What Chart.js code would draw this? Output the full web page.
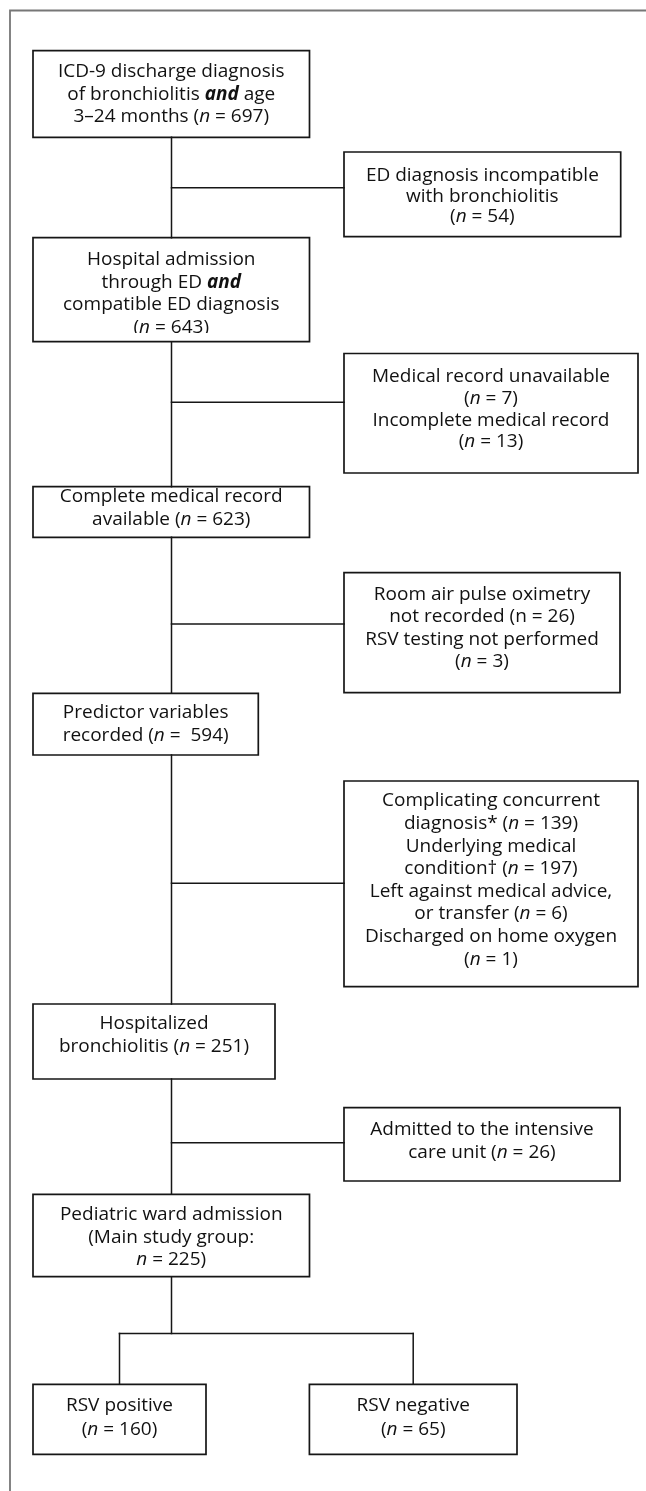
<!DOCTYPE html>
<html><head><meta charset="utf-8">
<script src="https://cdn.jsdelivr.net/npm/chart.js@4"></script>
<style>html,body{margin:0;padding:0;background:#fff}#wrap{width:646px;height:1491px;position:relative}</style>
</head><body><div id="wrap"><canvas id="c"></canvas></div>
<script>
// ---- DATA ----
const mainCounts = [697, 643, 623, 594, 251, 225];
const exclusionCounts = [[54], [7, 13], [26, 3], [139, 197, 6, 1], [26]];
const outcomeCounts = [160, 65];
const mainLabels = [
  ["ICD-9 discharge diagnosis", "of bronchiolitis **and** age", "3–24 months (_n_ = {0})"],
  ["Hospital admission", "through ED **and**", "compatible ED diagnosis", "(_n_ = {0})"],
  ["Complete medical record", "available (_n_ = {0})"],
  ["Predictor variables", "recorded (_n_ =  {0})"],
  ["Hospitalized", "bronchiolitis (_n_ = {0})"],
  ["Pediatric ward admission", "(Main study group:", "_n_ = {0})"]
];
const exclusionLabels = [
  ["ED diagnosis incompatible", "with bronchiolitis", "(_n_ = {0})"],
  ["Medical record unavailable", "(_n_ = {0})", "Incomplete medical record", "(_n_ = {1})"],
  ["Room air pulse oximetry", "not recorded (n = {0})", "RSV testing not performed", "(_n_ = {1})"],
  ["Complicating concurrent", "diagnosis* (_n_ = {0})", "Underlying medical", "condition† (_n_ = {1})",
   "Left against medical advice,", "or transfer (_n_ = {2})", "Discharged on home oxygen", "(_n_ = {3})"],
  ["Admitted to the intensive", "care unit (_n_ = {0})"]
];
const outcomeLabels = [["RSV positive", "(_n_ = {0})"], ["RSV negative", "(_n_ = {0})"]];

// ---- LAYOUT (axis units: x 0..646, y 0..1491 downward) ----
// [x1, y1, x2, y2, firstLineY, lineGap, clipY]
const mainBoxes = [
  [33, 50.7, 309.5, 137.3, 71.7, 22.5],
  [33, 237.7, 309.5, 341.7, 260, 22.4, 333],
  [33, 486.7, 309.5, 537.3, 496.7, 22.6],
  [33, 693.3, 258.3, 755, 713, 23],
  [33, 1004, 275, 1079, 1023.3, 23.4],
  [33, 1194.3, 309.5, 1276.7, 1215, 22.5]
];
const exclusionBoxes = [
  [344, 152, 620.7, 236.7, 175.7, 20.5],
  [344, 353.5, 638, 473, 376.7, 21.7],
  [344, 572.7, 620, 692.7, 594.3, 22.4],
  [344, 781, 638, 986.7, 801, 22.6],
  [344, 1107.7, 620, 1181, 1130, 22.7]
];
const outcomeBoxes = [
  [33, 1384.3, 206, 1454.3, 1405.7, 23.6],
  [309.4, 1384.3, 517, 1454.3, 1405.7, 23.6]
];
const spineX = 171.5;
const branchY = [187.7, 402.3, 624, 883.3, 1142.7];
const splitY = 1333.5;

const INK = '#161616';
const datasets = [];
function seg(pts, color, w) {
  datasets.push({data: pts.map(p => ({x: p[0], y: p[1]})), showLine: true, pointRadius: 0,
    borderColor: color, borderWidth: w, fill: false, tension: 0, borderCapStyle: 'square'});
}
function box(b) {
  seg([[b[0], b[1]], [b[2], b[1]], [b[2], b[3]], [b[0], b[3]], [b[0], b[1]]], INK, 1.7);
}
// frame
seg([[10, 1491], [10, 10.5], [646, 10.5]], '#777', 1.8);
mainBoxes.forEach(box); exclusionBoxes.forEach(box); outcomeBoxes.forEach(box);
// spine
for (let i = 0; i < mainBoxes.length - 1; i++) seg([[spineX, mainBoxes[i][3]], [spineX, mainBoxes[i + 1][1]]], INK, 1.5);
branchY.forEach((y, i) => seg([[spineX, y], [exclusionBoxes[i][0], y]], INK, 1.5));
// split to outcomes
const last = mainBoxes[mainBoxes.length - 1];
seg([[spineX, last[3]], [spineX, splitY]], INK, 1.5);
const cx = outcomeBoxes.map(b => (b[0] + b[2]) / 2);
seg([[cx[0], splitY], [cx[1], splitY]], INK, 1.5);
outcomeBoxes.forEach((b, i) => seg([[cx[i], splitY], [cx[i], b[1]]], INK, 1.5));

const FS = 19, FAM = '"Open Sans", "Noto Sans", sans-serif';
function parse(line) {
  const out = []; const re = /(\*\*[^*]+\*\*|_[^_]+_)/g; let last = 0, m;
  while ((m = re.exec(line))) {
    if (m.index > last) out.push({t: line.slice(last, m.index), f: 'normal 400'});
    if (m[0].startsWith('**')) out.push({t: m[0].slice(2, -2), f: 'italic 700'});
    else out.push({t: m[0].slice(1, -1), f: 'italic 400'});
    last = m.index + m[0].length;
  }
  if (last < line.length) out.push({t: line.slice(last), f: 'normal 400'});
  return out;
}
const textPlugin = {
  id: 'boxText',
  afterDatasetsDraw(chart) {
    const ctx = chart.ctx, sx = chart.scales.x, sy = chart.scales.y;
    function draw(b, lines, counts) {
      ctx.save();
      if (b[6]) { ctx.beginPath(); ctx.rect(0, 0, 646, sy.getPixelForValue(b[6])); ctx.clip(); }
      const xc = sx.getPixelForValue((b[0] + b[2]) / 2);
      lines.forEach((ln, k) => {
        const txt = ln.replace(/\{(\d)\}/g, (_, j) => String(counts[+j]));
        const parts = parse(txt);
        let w = 0;
        parts.forEach(p => { ctx.font = p.f + ' ' + FS + 'px ' + FAM; p.w = ctx.measureText(p.t).width; w += p.w; });
        let x = xc - w / 2; const y = sy.getPixelForValue(b[4] + k * b[5]);
        ctx.fillStyle = '#111'; ctx.textBaseline = 'middle'; ctx.textAlign = 'left';
        parts.forEach(p => { ctx.font = p.f + ' ' + FS + 'px ' + FAM; ctx.fillText(p.t, x, y); x += p.w; });
      });
      ctx.restore();
    }
    mainBoxes.forEach((b, i) => draw(b, mainLabels[i], [mainCounts[i]]));
    exclusionBoxes.forEach((b, i) => draw(b, exclusionLabels[i], exclusionCounts[i]));
    outcomeBoxes.forEach((b, i) => draw(b, outcomeLabels[i], [outcomeCounts[i]]));
  }
};

new Chart(document.getElementById('c'), {
  type: 'scatter',
  data: {datasets},
  options: {
    responsive: true, maintainAspectRatio: false, animation: false,
    layout: {padding: 0},
    plugins: {legend: {display: false}, tooltip: {enabled: false}},
    scales: {
      x: {type: 'linear', min: 0, max: 646, display: false},
      y: {type: 'linear', min: 0, max: 1491, reverse: true, display: false}
    }
  },
  plugins: [textPlugin]
});
</script>
</body></html>
